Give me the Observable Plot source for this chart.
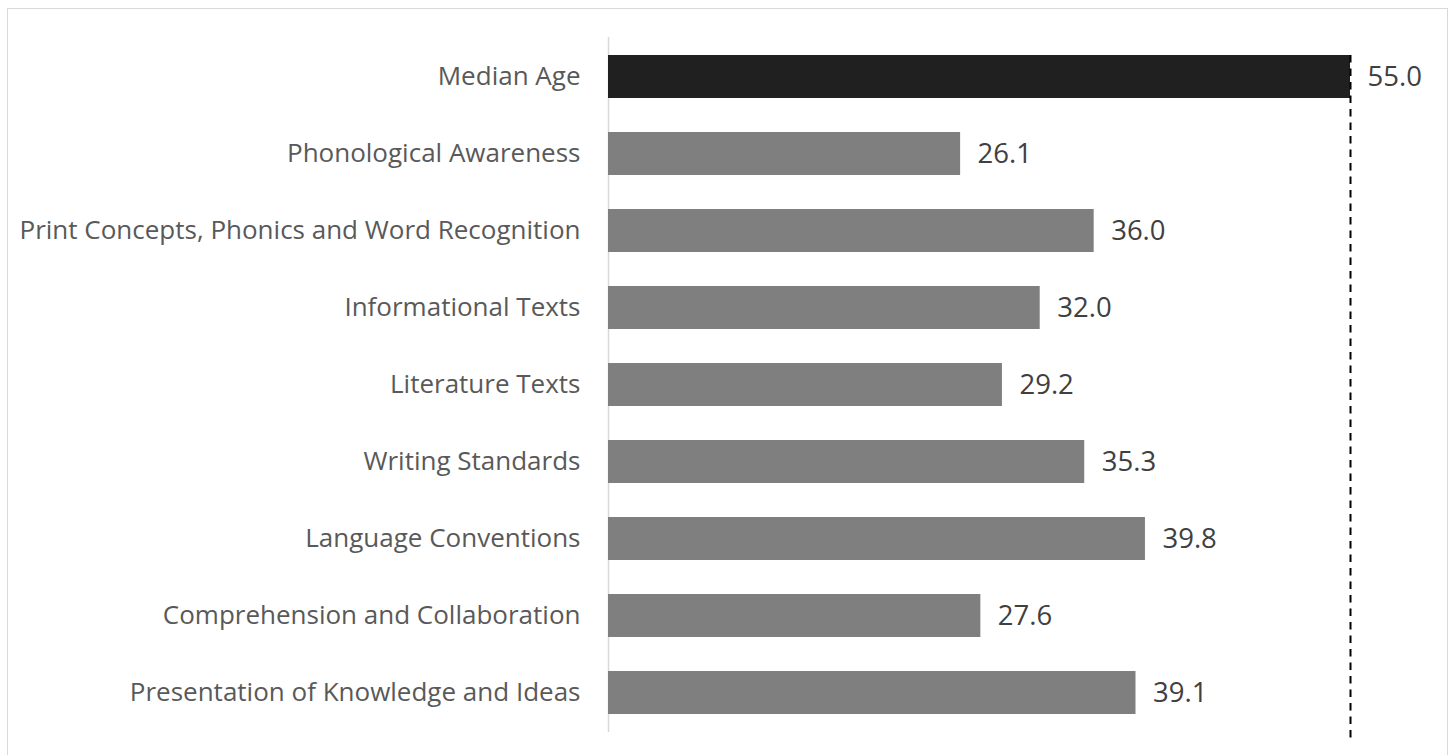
<!DOCTYPE html>
<html>
<head>
<meta charset="utf-8">
<script src="https://cdn.jsdelivr.net/npm/d3@7"></script>
<script src="https://cdn.jsdelivr.net/npm/@observablehq/plot@0.6"></script>
<style>
  html, body { margin: 0; padding: 0; background: #fff; }
  #frame { position: absolute; left: 7px; top: 8px; width: 1441px; height: 800px; border: 1px solid #d9d9d9; box-sizing: border-box; }
  #chart { position: absolute; left: 0; top: 0; }
</style>
</head>
<body>
<div id="frame"></div>
<div id="chart"></div>
<script>
const categories = [
  "Median Age",
  "Phonological Awareness",
  "Print Concepts, Phonics and Word Recognition",
  "Informational Texts",
  "Literature Texts",
  "Writing Standards",
  "Language Conventions",
  "Comprehension and Collaboration",
  "Presentation of Knowledge and Ideas"
];
const values = [55.0, 26.1, 36.0, 32.0, 29.2, 35.3, 39.8, 27.6, 39.1];
const referenceValue = [55.0];

const data = categories.map((c, i) => ({category: c, value: values[i], highlight: i === 0}));

const font = "'Open Sans', sans-serif";

const chart = Plot.plot({
  width: 1453,
  height: 755,
  marginLeft: 608,
  marginRight: 103,
  marginTop: 37,
  marginBottom: 23,
  style: {fontFamily: font, fontSize: "26px", background: "transparent"},
  x: {domain: [0, 55], axis: null},
  y: {domain: categories, paddingInner: 0.44, paddingOuter: 0.22, axis: null},
  marks: [
    Plot.ruleX([0], {stroke: "#d9d9d9", strokeWidth: 1.5}),
    Plot.barX(data, {
      y: "category",
      x: "value",
      fill: d => d.highlight ? "#202020" : "#7f7f7f"
    }),
    Plot.ruleX(referenceValue, {stroke: "#000", strokeWidth: 2, strokeDasharray: "7.5,6", insetTop: 18, insetBottom: -11}),
    Plot.text(data, {
      y: "category",
      x: 0,
      text: "category",
      textAnchor: "end",
      dx: -28,
      fill: "#595959",
      fontSize: 26
    }),
    Plot.text(data, {
      y: "category",
      x: "value",
      text: d => d.value.toFixed(1),
      textAnchor: "start",
      dx: 17,
      fill: "#404040",
      fontSize: 27.5
    })
  ]
});
document.getElementById("chart").appendChild(chart);
</script>
</body>
</html>
